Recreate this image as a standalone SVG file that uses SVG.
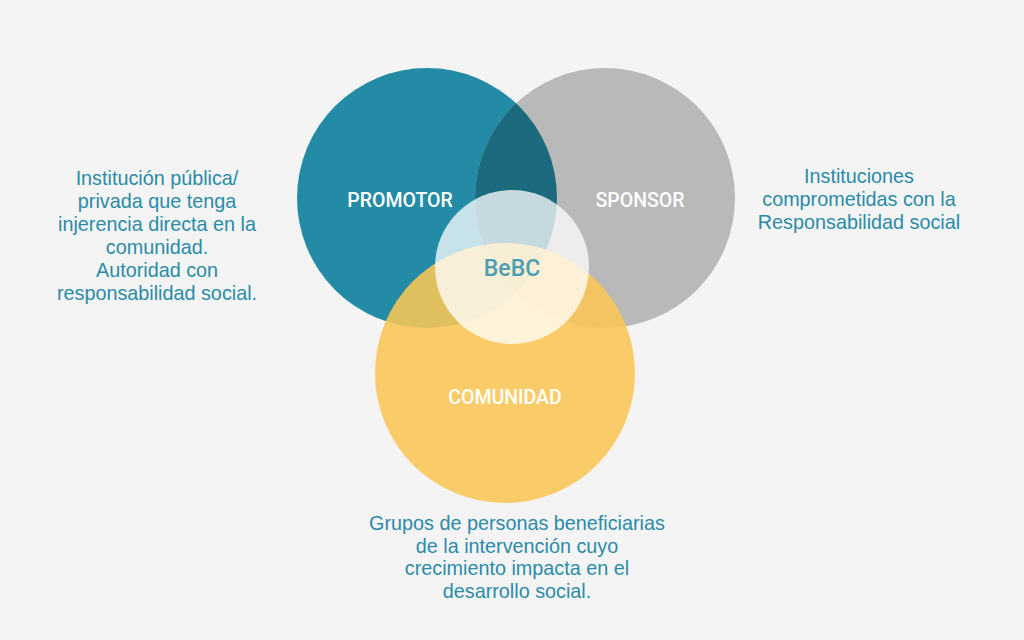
<svg xmlns="http://www.w3.org/2000/svg" width="1024" height="640" viewBox="0 0 1024 640">
<style>
.lbl{font-family:Roboto,"Liberation Sans",sans-serif;font-weight:500;font-size:19.5px;fill:#ffffff;text-anchor:middle}
.body{font-family:"Liberation Sans",Arial,sans-serif;font-size:19.8px;fill:#2A8BA8;text-anchor:middle}
.core{font-family:Roboto,"Liberation Sans",sans-serif;font-weight:500;font-size:23px;fill:#4C9FB2;text-anchor:middle}
</style>
<defs>
<clipPath id="clipPromotor"><circle cx="427" cy="198" r="130"/></clipPath>
</defs>
<rect x="0" y="0" width="1024" height="640" fill="#F4F4F4"/>
<g id="promotor">
<circle cx="427" cy="198" r="130" fill="#238BA6"/>
</g>
<g id="sponsor">
<circle cx="605" cy="198" r="130" fill="#B9B9B9"/>
<circle cx="605" cy="198" r="130" fill="#1B6A7E" clip-path="url(#clipPromotor)"/>
</g>
<g id="comunidad">
<circle cx="505" cy="373" r="130" fill="#FAC655" fill-opacity="0.88"/>
</g>
<g id="bebc">
<circle cx="512" cy="267" r="77" fill="#FFFFFF" fill-opacity="0.75"/>
<text class="core" x="512" y="276">BeBC</text>
</g>
<g id="labels">
<text class="lbl" x="400" y="207">PROMOTOR</text>
<text class="lbl" x="640" y="207">SPONSOR</text>
<text class="lbl" x="505" y="404">COMUNIDAD</text>
</g>
<g id="desc-promotor">
<text class="body" x="157" y="185">Institución pública/</text>
<text class="body" x="157" y="208">privada que tenga</text>
<text class="body" x="157" y="231">injerencia directa en la</text>
<text class="body" x="157" y="254">comunidad.</text>
<text class="body" x="157" y="277">Autoridad con</text>
<text class="body" x="157" y="300">responsabilidad social.</text>
</g>
<g id="desc-sponsor">
<text class="body" x="859" y="183">Instituciones</text>
<text class="body" x="859" y="206">comprometidas con la</text>
<text class="body" x="859" y="229">Responsabilidad social</text>
</g>
<g id="desc-comunidad">
<text class="body" x="517" y="530">Grupos de personas beneficiarias</text>
<text class="body" x="517" y="552.5">de la intervención cuyo</text>
<text class="body" x="517" y="575">crecimiento impacta en el</text>
<text class="body" x="517" y="597.5">desarrollo social.</text>
</g>
<g id="connectors"></g>
</svg>
